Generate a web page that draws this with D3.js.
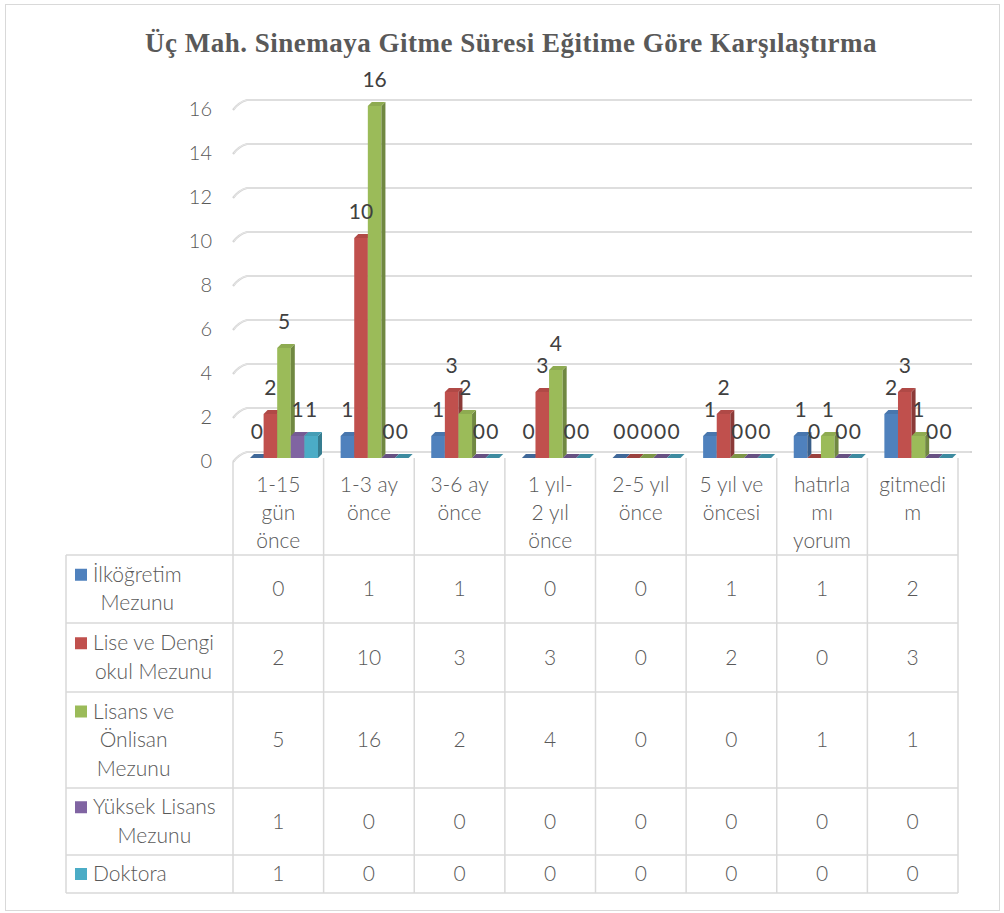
<!DOCTYPE html>
<html><head><meta charset="utf-8">
<script src="https://cdn.jsdelivr.net/npm/d3@7"></script>
<style>
html,body{margin:0;padding:0;background:#fff;}
svg{display:block;}
</style></head>
<body>
<svg id="chart" width="1004" height="913"></svg>
<script>
// ---------- DATA ----------
const chartTitle = "Üç Mah. Sinemaya Gitme Süresi Eğitime Göre Karşılaştırma";
const categories = ["1-15 gün önce","1-3 ay önce","3-6 ay önce","1 yıl-2 yıl önce","2-5 yıl önce","5 yıl ve öncesi","hatırlamıyorum","gitmedim"];
const categoryLines = [["1-15","gün","önce"],["1-3 ay","önce"],["3-6 ay","önce"],["1 yıl-","2 yıl","önce"],["2-5 yıl","önce"],["5 yıl ve","öncesi"],["hatırla","mı","yorum"],["gitmedi","m"]];
const seriesNames = ["İlköğretim Mezunu","Lise ve Dengi okul Mezunu","Lisans ve Önlisan Mezunu","Yüksek Lisans Mezunu","Doktora"];
const seriesLines = [["İlköğretim","Mezunu"],["Lise ve Dengi","okul Mezunu"],["Lisans ve","Önlisan","Mezunu"],["Yüksek Lisans","Mezunu"],["Doktora"]];
const ilkogretim = [0,1,1,0,0,1,1,2];
const lise       = [2,10,3,3,0,2,0,3];
const lisans     = [5,16,2,4,0,0,1,1];
const yuksek     = [1,0,0,0,0,0,0,0];
const doktora    = [1,0,0,0,0,0,0,0];
const yTicks = [0,2,4,6,8,10,12,14,16];
const seriesColors = ["#4F81BD","#C0504D","#9BBB59","#8064A2","#4BACC6"];

const seriesValues = [ilkogretim, lise, lisans, yuksek, doktora];

// ---------- LAYOUT ----------
const svg = d3.select("#chart");
const font = "Lato, 'Open Sans', sans-serif";
const fw = 300;
const textCol = "#595959";
const gridCol = "#d6d6d6";
const fs = 21;

svg.append("rect").attr("x",5.5).attr("y",4.5).attr("width",994).attr("height",906)
  .attr("fill","#fff").attr("stroke","#d9d9d9").attr("stroke-width",1);

svg.append("text").attr("x",511).attr("y",52).attr("text-anchor","middle")
  .attr("font-family","'Liberation Serif', 'Times New Roman', serif").attr("font-weight","bold")
  .attr("font-size",27).attr("letter-spacing","0.5px").attr("fill",textCol).text(chartTitle);

const x = d3.scaleBand().domain(d3.range(categories.length)).range([233,958]).padding(0);
const xs = d3.scaleBand().domain(d3.range(seriesNames.length)).range([17,85]).padding(0);
const y = d3.scaleLinear().domain([0,16]).range([452,100]);
const front = 6, depth = 4;
const gridLeft = 233, gridBack = 247, gridRight = 972;

// gridlines (3D back wall lines with slanted left stub)
const g = svg.append("g");
yTicks.forEach(t => {
  const yy = y(t);
  g.append("path")
    .attr("d", `M${gridLeft},${yy+10} Q${gridLeft+6},${yy+2} ${gridBack},${yy} L${gridRight},${yy}`)
    .attr("fill","none").attr("stroke",gridCol).attr("stroke-width",2.2);
  g.append("path")
    .attr("d", `M${gridLeft+1},${yy+9} Q${gridLeft+7},${yy+1} ${gridBack},${yy} L${gridRight-2},${yy}`)
    .attr("fill","none").attr("stroke","#f2f2f2").attr("stroke-width",0.6);
});

// y axis labels
const yAxis = d3.axisLeft(y).tickValues(yTicks).tickSize(0).tickPadding(0);
const ya = svg.append("g").attr("transform","translate(212,8)").call(yAxis);
ya.select(".domain").remove();
ya.selectAll("text").attr("font-family",font).attr("font-weight",fw).attr("font-size",20).attr("fill",textCol)
  .attr("dy","0.35em");

// ---------- TABLE ----------
const rowY = [555,623,692,788,855,893];
const tbl = svg.append("g").attr("stroke","#d9d9d9").attr("stroke-width",1.5).attr("fill","none");
x.domain().forEach(i => {
  tbl.append("line").attr("x1",x(i)+x.bandwidth()).attr("x2",x(i)+x.bandwidth()).attr("y1",458).attr("y2",rowY[5]);
});
tbl.append("path").attr("d",`M${gridLeft},${y(0)+10} L${gridLeft},${rowY[5]}`);
tbl.append("line").attr("x1",66).attr("x2",66).attr("y1",rowY[0]).attr("y2",rowY[5]);
rowY.forEach(r => tbl.append("line").attr("x1",66).attr("x2",958).attr("y1",r).attr("y2",r));

// category header labels
const lh = 28;
categoryLines.forEach((lines,i) => {
  lines.forEach((ln,k) => {
    svg.append("text").attr("x",x(i)+x.bandwidth()/2).attr("y",492+k*lh)
      .attr("text-anchor","middle").attr("font-family",font).attr("font-weight",fw).attr("font-size",fs)
      .attr("fill",textCol).text(ln);
  });
});

// legend column + values
seriesNames.forEach((s,si) => {
  const top = rowY[si], bot = rowY[si+1], mid = (top+bot)/2;
  const lines = seriesLines[si];
  const firstBase = mid - (lines.length-1)*28.5/2 + 7;
  svg.append("rect").attr("x",75).attr("y",firstBase-13).attr("width",12).attr("height",12)
    .attr("fill",seriesColors[si]);
  const t0 = svg.append("text").attr("x",93).attr("y",firstBase).attr("font-family",font).attr("font-weight",fw)
    .attr("font-size",fs).attr("fill",textCol).text(lines[0]);
  const w0 = t0.node().getComputedTextLength();
  const cx = 93 + w0/2;
  lines.slice(1).forEach((ln,k) => {
    svg.append("text").attr("x",cx).attr("y",firstBase+(k+1)*28.5).attr("text-anchor","middle")
      .attr("font-family",font).attr("font-weight",fw).attr("font-size",fs).attr("fill",textCol).text(ln);
  });
  seriesValues[si].forEach((v,ci) => {
    svg.append("text").attr("x",x(ci)+x.bandwidth()/2).attr("y",mid+7).attr("text-anchor","middle")
      .attr("font-family",font).attr("font-weight",fw).attr("font-size",fs).attr("fill",textCol).text(v);
  });
});

// ---------- BARS ----------
const bars = svg.append("g");
const labels = svg.append("g");
categories.forEach((c,ci) => {
  seriesValues.forEach((vals,si) => {
    const v = vals[ci];
    const col = d3.color(seriesColors[si]);
    const x0 = x(ci) + xs(si), w = xs.bandwidth();
    const yb = y(0)+front, yt = y(v)+front;
    const gb = bars.append("g");
    gb.append("rect").attr("x",x0).attr("y",yt).attr("width",w).attr("height",yb-yt).attr("fill",col.formatHex());
    gb.append("polygon").attr("points",[[x0+w,yt],[x0+w+depth,yt-depth],[x0+w+depth,yb-depth],[x0+w,yb]].join(" "))
      .attr("fill",col.darker(0.9).formatHex());
    gb.append("polygon").attr("points",[[x0,yt],[x0+depth,yt-depth],[x0+w+depth,yt-depth],[x0+w,yt]].join(" "))
      .attr("fill",v===0 ? col.darker(0.6).formatHex() : col.darker(0.25).formatHex());
    labels.append("text").attr("x",x0+w/2).attr("y",yt-19).attr("text-anchor","middle")
      .attr("font-family",font).attr("font-weight",400).attr("font-size",fs).attr("fill","#404040").text(v);
  });
});
</script>
</body></html>
